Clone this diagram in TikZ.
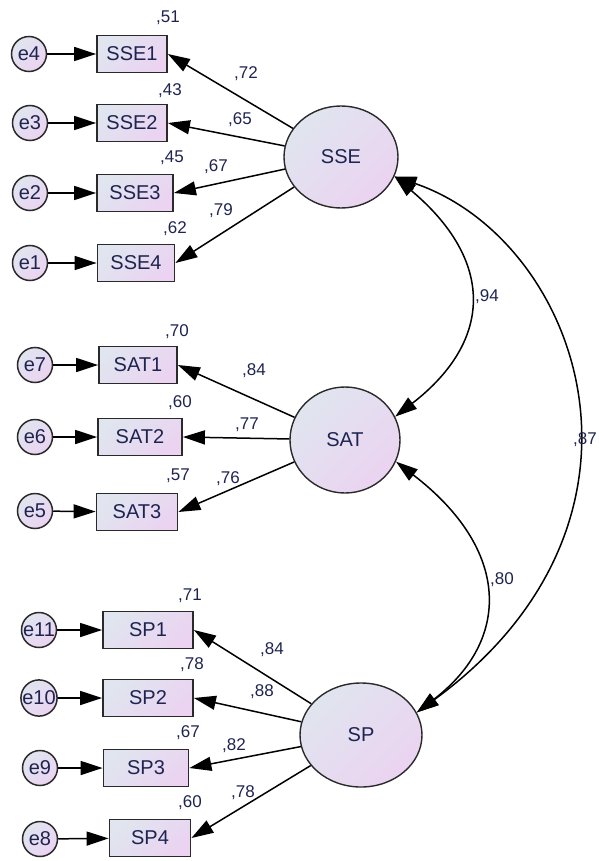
\documentclass[tikz,border=0pt]{standalone}
\usepackage{fontspec}
\setmainfont{Liberation Sans}
\usetikzlibrary{shapes.geometric,arrows.meta}
\definecolor{fillA}{HTML}{E0E5EF}
\definecolor{fillB}{HTML}{EBD3F1}
\definecolor{txt}{HTML}{1E2450}
\definecolor{edgec}{HTML}{2A2A2A}
\begin{document}
\begin{tikzpicture}[x=1pt,y=-1pt,
  every node/.style={text=txt},
  obs/.style={draw=edgec, line width=1.8pt, minimum height=37pt, inner sep=0pt, top color=fillA, bottom color=fillB, shading angle=45, font=\fontsize{20}{24}\selectfont},
  err/.style={circle, draw=edgec, line width=1.5pt, minimum size=35pt, inner sep=0pt, top color=fillA, bottom color=fillB, shading angle=45, font=\fontsize{20}{24}\selectfont},
  lat/.style={ellipse, draw=edgec, line width=1.4pt, inner sep=0pt, top color=fillA, bottom color=fillB, shading angle=45, font=\fontsize{20}{24}\selectfont},
  coef/.style={font=\fontsize{17}{20}\selectfont, inner sep=0pt},
  arr/.style={line width=1.5pt, -{Triangle[length=22pt,width=14pt]}},
  dbl/.style={line width=1.5pt, {Triangle[length=22pt,width=14pt]}-{Triangle[length=22pt,width=14pt]}}
]
\useasboundingbox (0,0) rectangle (598,861);

% latent variables
\node[lat, minimum width=114pt, minimum height=102pt] (SSE) at (341,157) {SSE};
\node[lat, minimum width=110pt, minimum height=106pt] (SAT) at (345,440) {SAT};
\node[lat, minimum width=122pt, minimum height=104pt] (SP) at (361,735) {SP};

% SSE block
\node[obs, minimum width=70pt] (SSE1) at (132,54) {SSE1};
\node[obs, minimum width=70pt] (SSE2) at (132,123) {SSE2};
\node[obs, minimum width=76pt] (SSE3) at (135,193) {SSE3};
\node[obs, minimum width=77pt] (SSE4) at (136,263) {SSE4};
\node[err] (e4) at (29,54) {e4};
\node[err] (e3) at (30,123) {e3};
\node[err] (e2) at (30,193) {e2};
\node[err] (e1) at (30,263) {e1};

% SAT block
\node[obs, minimum width=78pt] (SAT1) at (138,365) {SAT1};
\node[obs, minimum width=84pt] (SAT2) at (140,437) {SAT2};
\node[obs, minimum width=81pt] (SAT3) at (137,512) {SAT3};
\node[err] (e7) at (35,365) {e7};
\node[err] (e6) at (35,437) {e6};
\node[err] (e5) at (35,511) {e5};

% SP block
\node[obs, minimum width=90pt] (SP1) at (148,630) {SP1};
\node[obs, minimum width=90pt] (SP2) at (148,698) {SP2};
\node[obs, minimum width=85pt] (SP3) at (146,768) {SP3};
\node[obs, minimum width=81pt] (SP4) at (150,838) {SP4};
\node[err] (e11) at (39,630) {e11};
\node[err] (e10) at (39,698) {e10};
\node[err] (e9) at (40,768) {e9};
\node[err] (e8) at (40,839) {e8};

% error arrows
\foreach \e/\o in {e4/SSE1,e3/SSE2,e2/SSE3,e1/SSE4,e7/SAT1,e6/SAT2,e5/SAT3,e11/SP1,e10/SP2,e9/SP3,e8/SP4}
  \draw[arr] (\e) -- (\o);

% loadings
\foreach \o in {SSE1,SSE2,SSE3,SSE4} \draw[arr] (SSE) -- (\o.east);
\foreach \o in {SAT1,SAT2,SAT3} \draw[arr] (SAT) -- (\o.east);
\foreach \o in {SP1,SP2,SP3,SP4} \draw[arr] (SP) -- (\o.east);

% covariances
\draw[dbl] (SSE.-20) .. controls (494,260) and (494,340) .. (SAT.25);
\draw[dbl] (SAT.-23) .. controls (511,550) and (511,640) .. (SP.22);
\draw[dbl] (SSE.-20) .. controls (580,240) and (680,520) .. (SP.22);

% coefficients
\node[coef] (r51) at (168,18) {,51};
\node[coef] (l72) at (246,74) {,72};
\node[coef] (r43) at (170,91) {,43};
\node[coef] (l65) at (240,120) {,65};
\node[coef] (r45) at (172,158) {,45};
\node[coef] (l67) at (216,167) {,67};
\node[coef] (r62) at (175,229) {,62};
\node[coef] (l79) at (221,211) {,79};

\node[coef] (r70) at (177,332) {,70};
\node[coef] (l84a) at (254,371) {,84};
\node[coef] (r60a) at (180,403) {,60};
\node[coef] (l77) at (247,425) {,77};
\node[coef] (r57) at (178,476) {,57};
\node[coef] (l76) at (228,479) {,76};

\node[coef] (r71) at (190,596) {,71};
\node[coef] (l84b) at (272,650) {,84};
\node[coef] (r78) at (192,665) {,78};
\node[coef] (l88) at (262,692) {,88};
\node[coef] (r67) at (188,733) {,67};
\node[coef] (l82) at (234,746) {,82};
\node[coef] (r60b) at (190,803) {,60};
\node[coef] (l78) at (243,793) {,78};

\node[coef, anchor=west] (c94) at (475,297) {,94};
\node[coef, anchor=west] (c80) at (490,580) {,80};
\node[coef, anchor=east] (c87) at (597,440) {,87};
\end{tikzpicture}
\end{document}
